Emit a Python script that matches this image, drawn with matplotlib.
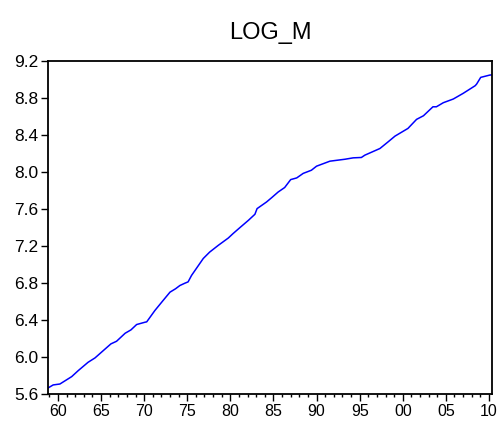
import matplotlib
matplotlib.use("Agg")
import matplotlib.pyplot as plt
from matplotlib.ticker import MultipleLocator, FixedLocator

plt.rcParams['font.family'] = ['Liberation Sans', 'DejaVu Sans']

title = "LOG_M"
years = [1958.85, 1959.45, 1960.23, 1961.6, 1962.36, 1963.5, 1964.3, 1965.26,
         1966.15, 1966.8, 1967.8, 1968.47, 1969.13, 1970.1, 1970.3, 1971.25,
         1972.2, 1973.0, 1973.65, 1974.15, 1974.73, 1975.1, 1975.5, 1976.86,
         1977.6, 1978.6, 1979.76, 1980.3, 1981.1, 1982.1, 1982.85, 1983.1,
         1984.2, 1984.8, 1985.55, 1986.3, 1987.0, 1987.7, 1988.45, 1989.4,
         1990.0, 1991.55, 1993.3, 1994.25, 1995.2, 1995.6, 1997.35, 1998.3,
         1999.1, 2000.6, 2001.6, 2002.4, 2003.5, 2003.9, 2004.7, 2005.86,
         2007.0, 2008.4, 2008.57, 2009.04, 2010.1, 2010.35]
log_m = [5.665, 5.698, 5.708, 5.788, 5.853, 5.943, 5.990, 6.069,
         6.142, 6.170, 6.257, 6.293, 6.351, 6.376, 6.380, 6.503,
         6.611, 6.701, 6.738, 6.773, 6.798, 6.812, 6.882, 7.065,
         7.134, 7.207, 7.286, 7.333, 7.398, 7.478, 7.543, 7.604,
         7.676, 7.723, 7.784, 7.832, 7.918, 7.936, 7.985, 8.019,
         8.063, 8.117, 8.138, 8.153, 8.157, 8.182, 8.254, 8.326,
         8.388, 8.471, 8.569, 8.608, 8.705, 8.705, 8.749, 8.789,
         8.850, 8.933, 8.951, 9.023, 9.048, 9.050]
x_ticks = [1960, 1965, 1970, 1975, 1980, 1985, 1990, 1995, 2000, 2005, 2010]
x_labels = ["60", "65", "70", "75", "80", "85", "90", "95", "00", "05", "10"]
y_ticks = [5.6, 6.0, 6.4, 6.8, 7.2, 7.6, 8.0, 8.4, 8.8, 9.2]

fig = plt.figure(figsize=(5.02, 4.25), dpi=100)
ax = fig.add_axes([48/502, 31/425, 444/502, 333/425])
ax.plot(years, log_m, color=(0, 0, 1), linewidth=1.1)
ax.set_xlim(years[0], years[-1])
ax.set_ylim(y_ticks[0], y_ticks[-1])
ax.xaxis.set_major_locator(FixedLocator(x_ticks))
ax.set_xticklabels(x_labels)
ax.xaxis.set_minor_locator(MultipleLocator(1))
ax.set_yticks(y_ticks)
ax.set_yticklabels([f"{v:.1f}" for v in y_ticks])
ax.tick_params(axis='both', which='major', direction='out', length=5, width=1,
               labelsize=11.5, pad=2, colors='black')
ax.tick_params(axis='y', which='major', labelsize=12.5, pad=2)
ax.tick_params(axis='x', which='minor', direction='out', length=2.5, width=1)
ax.tick_params(axis='y', which='minor', left=False)
for s in ax.spines.values():
    s.set_linewidth(1.3)
    s.set_color('black')
ax.set_title(title, fontsize=17, pad=16)
fig.savefig("out.png", dpi=100)
